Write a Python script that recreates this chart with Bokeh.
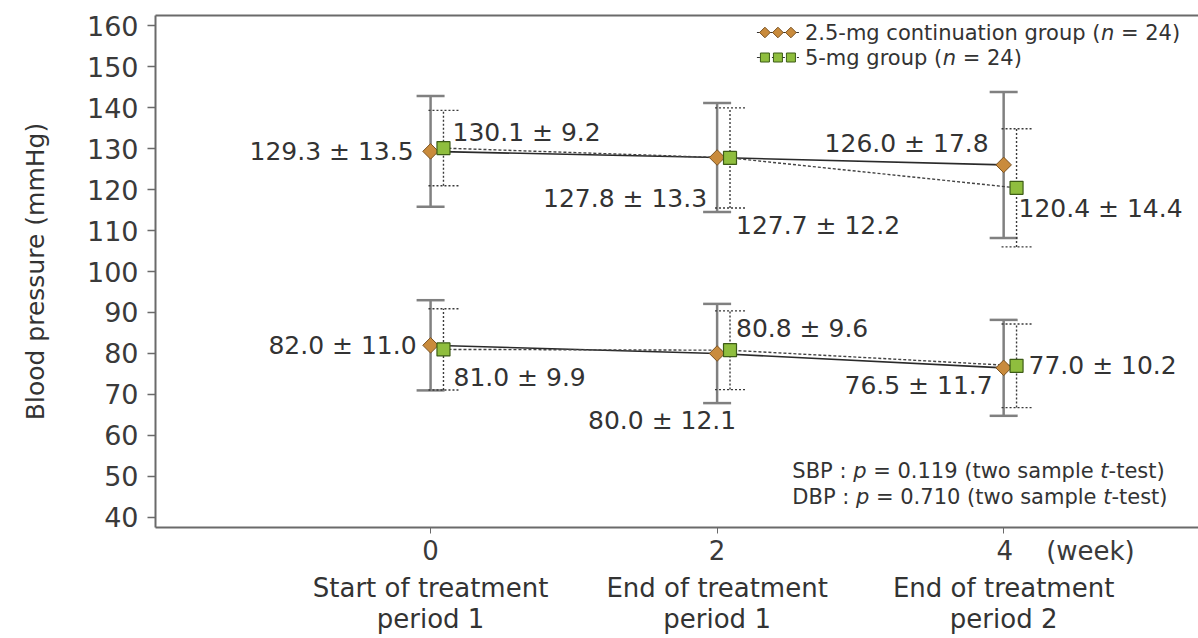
import math
from bokeh.plotting import figure
from bokeh.models import (ColumnDataSource, Range1d, FixedTicker, LinearAxis,
                          Whisker, TeeHead)
from bokeh.core.properties import value
from bokeh.embed import file_html
from bokeh.resources import INLINE

# ---------------- data ----------------
weeks = [0, 2, 4]
week_tick_labels = ["0", "2", "4"]
period_line1 = ["Start of treatment", "End of treatment", "End of treatment"]
period_line2 = ["period 1", "period 1", "period 2"]
unit_label = "(week)"
y_ticks = [40, 50, 60, 70, 80, 90, 100, 110, 120, 130, 140, 150, 160]
y_title = "Blood pressure (mmHg)"

sbp_low_mean = [129.3, 127.8, 126.0]
sbp_low_sd = [13.5, 13.3, 17.8]
sbp_high_mean = [130.1, 127.7, 120.4]
sbp_high_sd = [9.2, 12.2, 14.4]
dbp_low_mean = [82.0, 80.0, 76.5]
dbp_low_sd = [11.0, 12.1, 11.7]
dbp_high_mean = [81.0, 80.8, 77.0]
dbp_high_sd = [9.9, 9.6, 10.2]

legend_low = "2.5-mg continuation group"
legend_high = "5-mg group"
n_low = 24
n_high = 24
sbp_p = "0.119"
dbp_p = "0.710"

# ---------------- layout / style ----------------
FONT = "DejaVu Sans"
W, H = 1198, 638
LEFT, TOP, BOTTOM = 155, 15, 111
X0, X1 = -1.92, 5.36
Y0, Y1 = 37.56, 162.44
PX_X = (W - LEFT) / (X1 - X0)
PX_Y = (H - TOP - BOTTOM) / (Y1 - Y0)
HIGH_DX = 0.09
TXT = "#333333"
AXC = "#6a6a6a"
LOW_FILL, LOW_EDGE = "#c98b3c", "#7a5222"
HIGH_FILL, HIGH_EDGE = "#8fbe3e", "#3d5c16"
XFS = 26  # x label font size


def px_x(px):
    return X0 + (px - LEFT) / PX_X


def px_y(py):
    return Y1 - (py - TOP) / PX_Y


EM = {' ': 0.318, '(': 0.390, ')': 0.390, '-': 0.361, '.': 0.318, ':': 0.337,
      '=': 0.838, 'B': 0.686, 'D': 0.770, 'P': 0.603, 'S': 0.635, 'a': 0.613,
      'c': 0.550, 'e': 0.615, 'g': 0.635, 'i': 0.278, 'l': 0.278, 'm': 0.974,
      'n': 0.634, 'o': 0.612, 'p': 0.635, 'r': 0.411, 's': 0.521, 't': 0.392,
      'u': 0.634, 'w': 0.818, 'k': 0.579}


def tw(s, size):
    return sum(EM.get(c, 0.636) for c in s) * size


p = figure(width=W, height=H, x_range=Range1d(X0, X1), y_range=Range1d(Y0, Y1),
           output_backend="svg", toolbar_location=None,
           min_border_left=LEFT, min_border_right=0, min_border_top=TOP,
           min_border_bottom=BOTTOM, outline_line_color=None,
           background_fill_color="white", border_fill_color="white")
p.grid.visible = False

# axes
for ax in (p.xaxis[0], p.yaxis[0]):
    ax.axis_line_color = AXC
    ax.axis_line_width = 2
    ax.major_tick_line_color = AXC
    ax.minor_tick_line_color = None
    ax.major_tick_in = 0
    ax.major_label_text_font = FONT
    ax.major_label_text_color = "#3a3a3a"

p.yaxis.ticker = FixedTicker(ticks=y_ticks)
p.yaxis.major_label_text_font_size = "27px"
p.yaxis.major_tick_out = 8
p.yaxis.major_tick_line_width = 1.5
p.yaxis.major_label_standoff = 9
p.yaxis.axis_label = y_title
p.yaxis.axis_label_text_font = FONT
p.yaxis.axis_label_text_font_size = "25px"
p.yaxis.axis_label_text_font_style = "normal"
p.yaxis.axis_label_text_color = TXT
p.yaxis.axis_label_standoff = 34

# week ticks; the last tick label carries the unit, padded so "4" stays centred
nb = "\u00a0"
sp_w = EM[' '] * XFS
gap_n = round(32 / sp_w)
pad_n = round((gap_n * sp_w + tw(unit_label, XFS)) / sp_w)
week_overrides = {w: t for w, t in zip(weeks, week_tick_labels)}
week_overrides[weeks[-1]] = nb * pad_n + week_tick_labels[-1] + nb * gap_n + unit_label

p.xaxis.ticker = FixedTicker(ticks=weeks)
p.xaxis.major_label_overrides = week_overrides
p.xaxis.major_label_text_font_size = f"{XFS}px"
p.xaxis.major_tick_out = 6
p.xaxis.major_tick_line_width = 1
p.xaxis.major_label_standoff = 2

# period captions as a second, line-less axis
period_axis = LinearAxis(ticker=FixedTicker(ticks=weeks),
                         major_label_overrides={w: a + "\n" + b for w, a, b in
                                                zip(weeks, period_line1, period_line2)},
                         axis_line_color=None, major_tick_line_color=None,
                         minor_tick_line_color=None, major_tick_out=0, major_tick_in=0,
                         major_label_standoff=4, major_label_text_font=FONT,
                         major_label_text_font_size=f"{XFS}px",
                         major_label_text_color=TXT,
                         major_label_text_line_height=1.05)
p.add_layout(period_axis, "below")

top_axis = LinearAxis(ticker=FixedTicker(ticks=[]), axis_line_color=AXC,
                      axis_line_width=2, major_tick_line_color=None,
                      minor_tick_line_color=None, major_label_text_font_size="0px")
p.add_layout(top_axis, "above")

weeks_high = [w + HIGH_DX for w in weeks]


# error bars
def add_whisker(xs, means, sds, color, width, dash, head):
    src = ColumnDataSource(dict(x=xs, lower=[m - s for m, s in zip(means, sds)],
                                upper=[m + s for m, s in zip(means, sds)]))
    kw = dict(line_color=color, line_width=width, line_dash=dash)
    wk = Whisker(base="x", upper="upper", lower="lower", source=src,
                 dimension="height", level="underlay",
                 upper_head=TeeHead(size=head, **kw),
                 lower_head=TeeHead(size=head, **kw), **kw)
    p.add_layout(wk)


for means, sds in ((sbp_low_mean, sbp_low_sd), (dbp_low_mean, dbp_low_sd)):
    add_whisker(weeks, means, sds, "#808080", 2.5, "solid", 28)
for means, sds in ((sbp_high_mean, sbp_high_sd), (dbp_high_mean, dbp_high_sd)):
    add_whisker(weeks_high, means, sds, "#3a3a3a", 1.4, "2 2", 30)

# lines
for means in (sbp_low_mean, dbp_low_mean):
    p.line(weeks, means, line_color="#2a2a2a", line_width=1.6)
for means in (sbp_high_mean, dbp_high_mean):
    p.line(weeks_high, means, line_color="#444444", line_width=1.4, line_dash="3 2")

# markers
for means in (sbp_low_mean, dbp_low_mean):
    p.scatter(weeks, means, marker="square", angle=math.pi / 4, size=11,
              fill_color=LOW_FILL, line_color=LOW_EDGE, line_width=1)
for means in (sbp_high_mean, dbp_high_mean):
    p.scatter(weeks_high, means, marker="square", size=13,
              fill_color=HIGH_FILL, line_color=HIGH_EDGE, line_width=1.2)

# value annotations (offsets in screen pixels, +dy = down)
ann_layout = {
    "sbp_low": [(-17, 0, "right"), (-10, 41, "right"), (-15, -21, "right")],
    "sbp_high": [(9, -16, "left"), (6, 68, "left"), (2, 21, "left")],
    "dbp_low": [(-14, 0, "right"), (-55, 67, "center"), (-11, 18, "right")],
    "dbp_high": [(10, 28, "left"), (6, -22, "left"), (12, 0, "left")],
}
series = {
    "sbp_low": (weeks, sbp_low_mean, sbp_low_sd),
    "sbp_high": (weeks_high, sbp_high_mean, sbp_high_sd),
    "dbp_low": (weeks, dbp_low_mean, dbp_low_sd),
    "dbp_high": (weeks_high, dbp_high_mean, dbp_high_sd),
}
groups = {al: dict(x=[], y=[], t=[], dx=[], dy=[]) for al in ("left", "right", "center")}
for key, (xs, means, sds) in series.items():
    for (dx, dy, al), x, m, s in zip(ann_layout[key], xs, means, sds):
        g = groups[al]
        g["x"].append(x)
        g["y"].append(m)
        g["t"].append(f"{m:.1f} ± {s:.1f}")
        g["dx"].append(dx)
        g["dy"].append(dy)
for al, g in groups.items():
    if g["x"]:
        p.text(x="x", y="y", text="t", x_offset="dx", y_offset="dy",
               source=ColumnDataSource(g), text_align=al, text_baseline="middle",
               text_font=value(FONT), text_font_size="25px", text_color=TXT)

LS = 21


def rich_row(pieces, start_px, py, size):
    cur = start_px
    for txt, it, gap in pieces:
        cur += gap * EM[' '] * size
        p.text(x=[px_x(cur)], y=[px_y(py)], text=[txt], text_align="left",
               text_baseline="middle", text_font=value(FONT),
               text_font_size=f"{size}px", text_color=TXT,
               text_font_style="italic" if it else "normal")
        cur += tw(txt, size)


def rich_width(pieces, size):
    return sum(gap * EM[' '] * size + tw(txt, size) for txt, it, gap in pieces)


leg1 = [(legend_low + " (", False, 0), ("n", True, 0), (f"= {n_low})", False, 1)]
leg2 = [(legend_high + " (", False, 0), ("n", True, 0), (f"= {n_high})", False, 1)]
leg_start = 992 - rich_width(leg1, LS) / 2
rich_row(leg1, leg_start, 32, LS)
rich_row(leg2, leg_start, 57, LS)

# legend symbols
for row_py, solid in ((32, True), (57, False)):
    mx = [px_x(leg_start - d) for d in (40, 27, 14)]
    yy = px_y(row_py)
    p.line([px_x(leg_start - 48), px_x(leg_start - 6)], [yy, yy],
           line_color="#333333", line_width=1.2,
           line_dash="solid" if solid else "3 2")
    if solid:
        p.scatter(mx, [yy] * 3, marker="square", angle=math.pi / 4, size=7.5,
                  fill_color=LOW_FILL, line_color=LOW_EDGE, line_width=1)
    else:
        p.scatter(mx, [yy] * 3, marker="square", size=9,
                  fill_color=HIGH_FILL, line_color=HIGH_EDGE, line_width=1)

# statistics note
st1 = [("SBP :", False, 0), ("p", True, 1), (f"= {sbp_p} (two sample", False, 1),
       ("t", True, 1), ("-test)", False, 0)]
st2 = [("DBP :", False, 0), ("p", True, 1), (f"= {dbp_p} (two sample", False, 1),
       ("t", True, 1), ("-test)", False, 0)]
st_start = 978 - rich_width(st1, LS) / 2
rich_row(st1, st_start, 470, LS)
rich_row(st2, st_start, 496, LS)

open("out.html", "w").write(file_html(p, INLINE))
